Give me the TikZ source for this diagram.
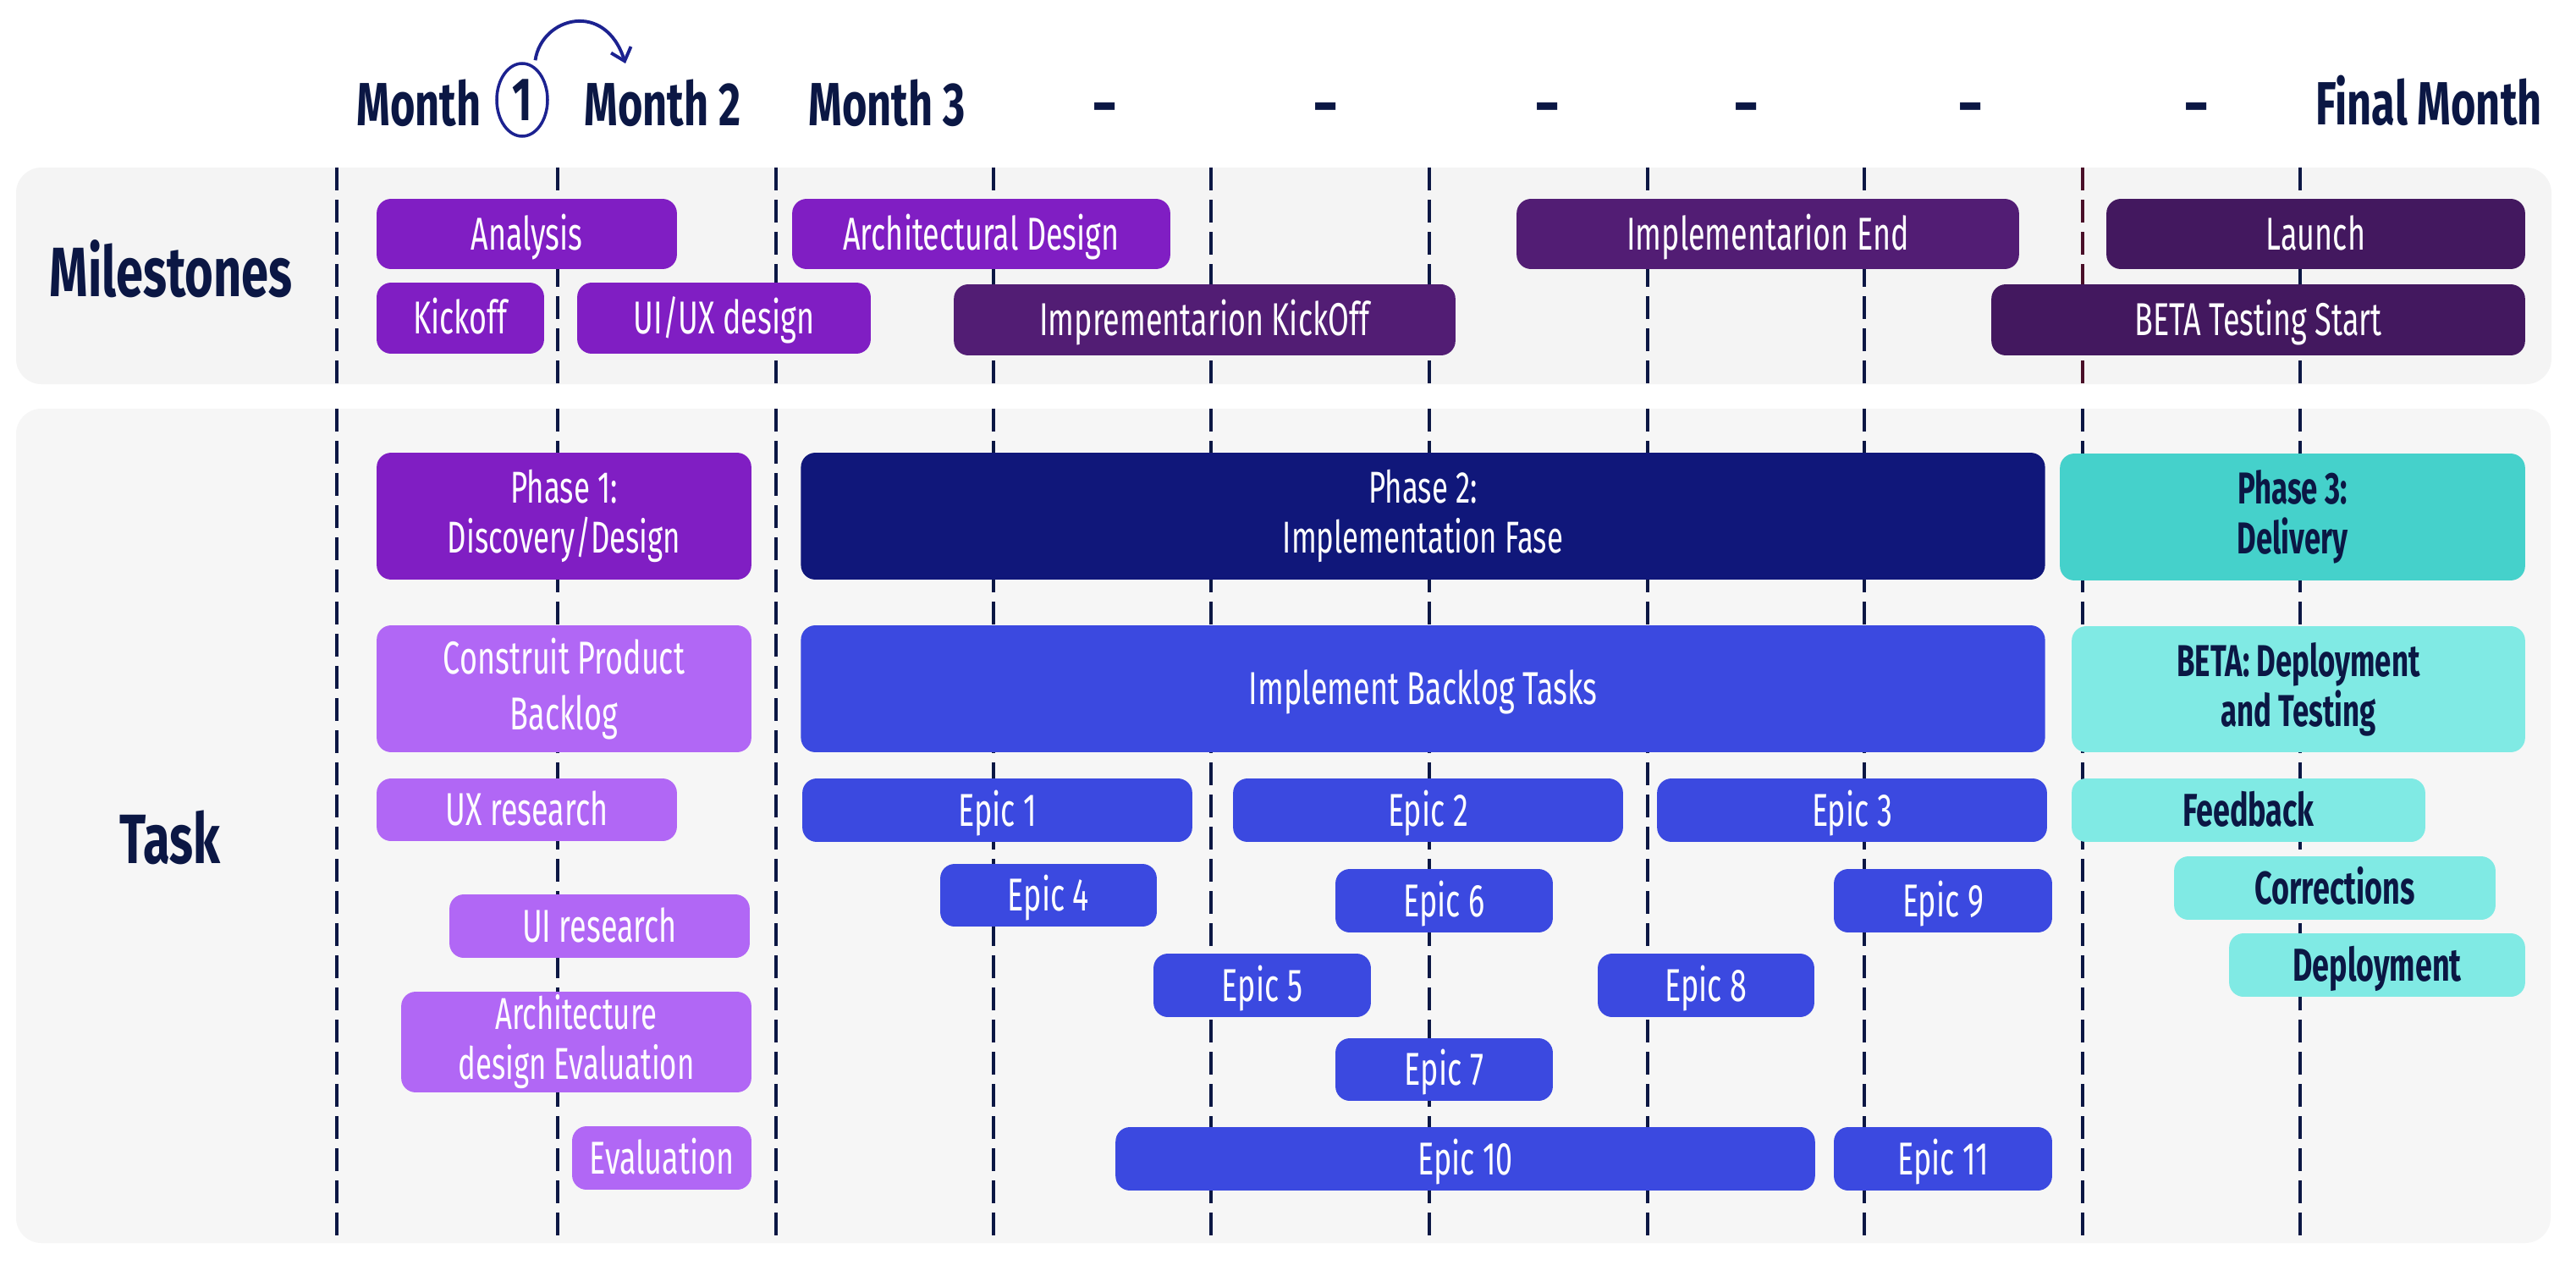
\documentclass[tikz,border=0pt]{standalone}
\usepackage{fontspec}
\setmainfont{Fira Sans}
\newfontfamily\handfont{Fira Sans}[FakeStretch=0.66]
\newfontfamily\headfont{Fira Sans}[FakeStretch=0.70]
\usetikzlibrary{shapes.geometric,arrows.meta}
\definecolor{cNavyText}{HTML}{0B1744}
\definecolor{cGrid}{HTML}{0B1744}
\definecolor{cMaroon}{HTML}{4A0F28}
\definecolor{cPanel}{HTML}{F4F4F4}
\definecolor{cPanelB}{HTML}{F6F6F6}
\definecolor{cPurple}{HTML}{801EC3}
\definecolor{cPurpleMid}{HTML}{521D74}
\definecolor{cPurpleDark}{HTML}{43185F}
\definecolor{cLilac}{HTML}{B167F5}
\definecolor{cNavy}{HTML}{10177A}
\definecolor{cBlue}{HTML}{3B49E0}
\definecolor{cTeal}{HTML}{45D1CB}
\definecolor{cTealLight}{HTML}{80EAE4}
\definecolor{cArrow}{HTML}{1C2290}
% box from pixel corners (x1,y1)-(x2,y2)
\newcommand\gbox[7]{\node[#6, minimum width={(#4-#2)*0.01cm}, minimum height={(#5-#3)*0.01cm}] (#1) at ({(#2+#4)/200},{-(#3+#5)/200}) {#7};}
\tikzset{
  box/.style={rounded corners=0.17cm, inner sep=0pt, outer sep=0pt, align=center,
    font=\handfont\fontsize{15.5}{13.7}\selectfont},
  one/.style={text height=10.7pt, text depth=0pt},
  two/.style={font=\handfont\fontsize{15}{16.8}\selectfont},
  twob/.style={font=\handfont\bfseries\fontsize{15}{16.8}\selectfont},
  wbox/.style={box, text=white},
  dbox/.style={box, text=cNavyText, font=\handfont\bfseries\fontsize{15.5}{13.7}\selectfont},
  msA/.style={wbox, fill=cPurple},
  msB/.style={wbox, fill=cPurpleMid},
  msC/.style={wbox, fill=cPurpleDark},
  phA/.style={wbox, fill=cPurple},
  phB/.style={wbox, fill=cNavy},
  phC/.style={dbox, fill=cTeal},
  lil/.style={wbox, fill=cLilac},
  blu/.style={wbox, fill=cBlue},
  tel/.style={dbox, fill=cTealLight},
  hdr/.style={text=cNavyText, inner sep=0pt, font=\headfont\bfseries\fontsize{20.5}{24}\selectfont},
  side/.style={text=cNavyText, inner sep=0pt, font=\headfont\bfseries\fontsize{23.5}{28}\selectfont},
  grid/.style={draw=cGrid, line width=0.042cm, dash pattern=on 0.27cm off 0.11cm},
  panel/.style={rounded corners=0.3cm},
}
\begin{document}
\begin{tikzpicture}[x=1cm,y=1cm]
\useasboundingbox (0,0) rectangle (30.44,-14.95);
\fill[white] (0,0) rectangle (30.44,-14.95);
% panels
\fill[cPanel, panel] (0.19,-1.98) rectangle (30.15,-4.54);
\fill[cPanelB, panel] (0.19,-4.83) rectangle (30.14,-14.69);
% grid lines
\foreach \gx in {3.98,6.59,9.17,11.74,14.31,16.89,19.47,22.03,27.18}{
  \draw[grid] (\gx,-1.98) -- (\gx,-4.54);
  \draw[grid] (\gx,-4.83) -- (\gx,-14.69);
}
\draw[grid, draw=cMaroon] (24.61,-1.98) -- (24.61,-4.54);
\draw[grid] (24.61,-4.83) -- (24.61,-14.69);
% header
\node[hdr, anchor=base] (h1) at (4.95,-1.48) {Month};
\node[ellipse, draw=cArrow, line width=1pt, minimum width=0.6cm, minimum height=0.86cm,
  inner sep=0pt, text=cNavyText, font=\headfont\bfseries\fontsize{20.5}{24}\selectfont] (c1) at (6.17,-1.18) {1};
\node[hdr, anchor=base] (h2) at (7.83,-1.48) {Month 2};
\node[hdr, anchor=base] (h3) at (10.48,-1.48) {Month 3};
\node[hdr, anchor=base] (d1) at (13.06,-1.48) {–};
\node[hdr, anchor=base] (d2) at (15.67,-1.48) {–};
\node[hdr, anchor=base] (d3) at (18.29,-1.48) {–};
\node[hdr, anchor=base] (d4) at (20.64,-1.48) {–};
\node[hdr, anchor=base] (d5) at (23.29,-1.48) {–};
\node[hdr, anchor=base] (d6) at (25.96,-1.48) {–};
\node[hdr, anchor=base] (hf) at (28.70,-1.47) {Final Month};
\coordinate (arrowend) at (7.39,-0.75);
\draw[cArrow, line width=1.1pt, shorten <=2pt, -{Straight Barb[length=4pt,width=7pt]}]
  (c1.70) .. controls (6.40,-0.20) and (7.15,0.00) .. (arrowend);
% side labels
\node[side, anchor=base] (lm) at (2.02,-3.50) {Milestones};
\node[side, anchor=base] (lt) at (2.01,-10.20) {Task};
% milestones
\gbox{msAnalysis}{445}{235}{800}{318}{msA,one}{Analysis}
\gbox{msKickoff}{445}{334}{643}{418}{msA,one}{Kickoff}
\gbox{msUiux}{682}{334}{1029}{418}{msA,one}{UI/UX design}
\gbox{msArch}{936}{235}{1383}{318}{msA,one}{Architectural Design}
\gbox{msImplKick}{1127}{336}{1720}{420}{msB,one}{Imprementarion KickOff}
\gbox{msImplEnd}{1792}{235}{2386}{318}{msB,one}{Implementarion End}
\gbox{msLaunch}{2489}{235}{2984}{318}{msC,one}{Launch}
\gbox{msBeta}{2353}{336}{2984}{420}{msC,one}{BETA Testing Start}
% phases
\gbox{ph1}{445}{535}{888}{685}{phA,two}{Phase 1:\\Discovery/Design}
\gbox{ph2}{946}{535}{2417}{685}{phB,two}{Phase 2:\\Implementation Fase}
\gbox{ph3}{2434}{536}{2984}{686}{phC,twob}{Phase 3:\\Delivery}
% second row
\gbox{tBacklog}{445}{739}{888}{889}{lil}{Construit Product\\[5.1pt]Backlog}
\gbox{tImpl}{946}{739}{2417}{889}{blu,one}{Implement Backlog Tasks}
\gbox{tBeta}{2448}{740}{2984}{889}{tel,twob}{BETA: Deployment\\and Testing}
% tasks
\gbox{tUx}{445}{920}{800}{994}{lil,one}{UX research}
\gbox{tUi}{531}{1057}{886}{1132}{lil,one}{UI research}
\gbox{tArch}{474}{1172}{888}{1291}{lil,two}{Architecture\\design Evaluation}
\gbox{tEval}{676}{1331}{888}{1406}{lil,one}{Evaluation}
\gbox{e1}{948}{920}{1409}{995}{blu,one}{Epic 1}
\gbox{e2}{1457}{920}{1918}{995}{blu,one}{Epic 2}
\gbox{e3}{1958}{920}{2419}{995}{blu,one}{Epic 3}
\gbox{e4}{1111}{1021}{1367}{1095}{blu,one}{Epic 4}
\gbox{e6}{1578}{1027}{1835}{1102}{blu,one}{Epic 6}
\gbox{e9}{2167}{1027}{2425}{1102}{blu,one}{Epic 9}
\gbox{e5}{1363}{1127}{1620}{1202}{blu,one}{Epic 5}
\gbox{e8}{1888}{1127}{2144}{1202}{blu,one}{Epic 8}
\gbox{e7}{1578}{1227}{1835}{1301}{blu,one}{Epic 7}
\gbox{e10}{1318}{1332}{2145}{1407}{blu,one}{Epic 10}
\gbox{e11}{2167}{1332}{2425}{1407}{blu,one}{Epic 11}
\gbox{tFeedback}{2448}{920}{2866}{995}{tel,one}{Feedback}
\gbox{tCorr}{2569}{1012}{2949}{1087}{tel,one}{Corrections}
\gbox{tDeploy}{2634}{1103}{2984}{1178}{tel,one}{Deployment}
\end{tikzpicture}
\end{document}
